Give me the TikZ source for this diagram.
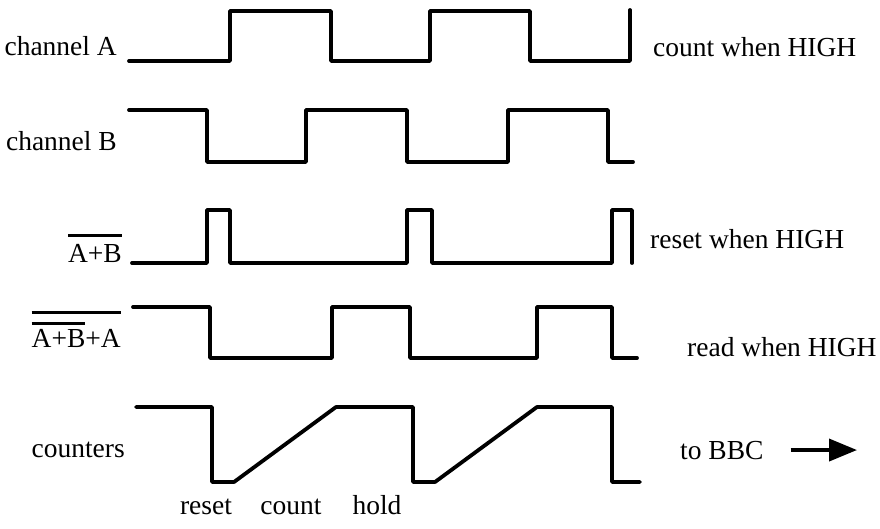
\documentclass[tikz,border=0pt]{standalone}
\usepackage{fontspec}
\setmainfont{Liberation Serif}
\usetikzlibrary{arrows.meta}
\newcommand{\ovl}[2][5pt]{\vbox{\hrule height 2.8pt\kern#1\hbox{#2}}}
\begin{document}
\begin{tikzpicture}
[x=1pt, y=-1pt, wave/.style={line width=3.8pt, line join=round, line cap=round},
txt/.style={font=\fontsize{27.5}{31}\selectfont, inner sep=0pt},
signame/.style={txt, anchor=base east}, note/.style={txt, anchor=base west}]
\useasboundingbox (0,0) rectangle (880,528);

\node[signame] (chA) at (117,55) {channel A};
\node[signame] (chB) at (117,150) {channel B};
\node[signame] (rst) at (122,262) {\ovl[7pt]{A+B}};
\node[signame] (rd) at (121,347) {\ovl[8pt]{\ovl[4pt]{A+B}+A}};
\node[signame] (cnt) at (125,457) {counters};

\node[note] (cwh) at (653,56) {count when HIGH};
\node[note] (rwh) at (650,248) {reset when HIGH};
\node[note] (dwh) at (687,356) {read when HIGH};
\node[note] (tobbc) at (680,459) {to BBC};
\coordinate (bbc) at (857,0);

\node[txt, anchor=base] (reset) at (206,514) {reset};
\node[txt, anchor=base] (count) at (291,514) {count};
\node[txt, anchor=base] (hold) at (377,514) {hold};

\draw[wave] (129,61) -| (230,11) -| (331,61) -| (430,11) -| (530,61) -| (630,10);
\draw[wave] (129,110) -| (207,162) -| (306,110) -| (407,162) -| (508,110) -| (608,162) -- (633,162);
\draw[wave] (132,263) -| (207,210) -| (230,263) -| (407,210) -| (432,263) -| (612,210) -| (632,263);
\draw[wave] (133,307) -| (210,358) -| (332,307) -| (410,358) -| (537,307) -| (612,358) -- (637,358);
\draw[wave] (136,407) -| (212,482) -- (234,482) -- (336,407) -| (413,482) -- (435,482) -- (537,407) -| (612,482) -- (640,482);

\draw[line width=3.8pt, -{Triangle[length=28pt,width=22pt]}, shorten <=27pt] (tobbc.east) -- (tobbc.east -| bbc);
\end{tikzpicture}
\end{document}
